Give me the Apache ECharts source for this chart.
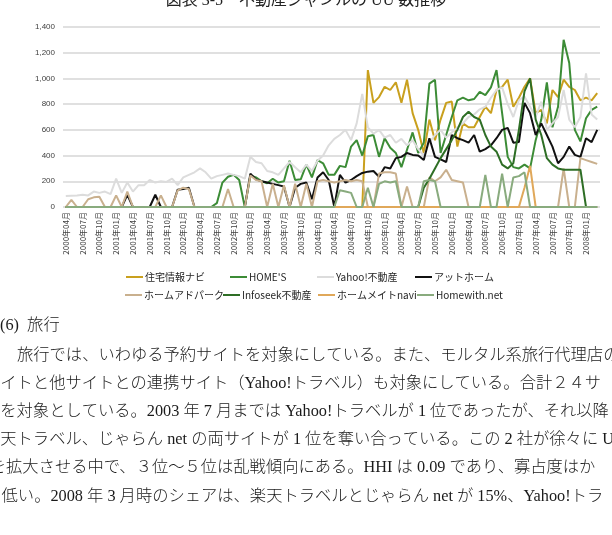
<!DOCTYPE html>
<html>
<head>
<meta charset="utf-8">
<script src="https://cdn.jsdelivr.net/npm/echarts@6/dist/echarts.min.js"></script>
<style>
  html, body { margin: 0; padding: 0; background: #fff; }
  #chart { width: 612px; height: 535px; }
</style>
</head>
<body>
<div id="chart"></div>
<script>
// 月次カテゴリ 2000年04月 〜 2008年03月
const months = []
for (let y = 2000; y <= 2008; y++) {
  for (let m = 1; m <= 12; m++) {
    if (y === 2000 && m < 4) continue
    if (y === 2008 && m > 3) break
    months.push(y + '年' + String(m).padStart(2, '0') + '月')
  }
}

const seriesNames = ['住宅情報ナビ', "HOME'S", 'Yahoo!不動産', 'アットホーム',
  'ホームアドパーク', 'Infoseek不動産', 'ホームメイトnavi', 'Homewith.net']
const seriesColors = ['#C9A01E', '#3C8C36', '#DCDCDC', '#111111',
  '#C9B08E', '#2E6E25', '#E0A85A', '#89AB7E']

// 1行 = 4月〜翌3月
const jutakuNavi = [
  0, 0, 0, 0, 0, 0, 0, 0, 0, 0, 0, 0,
  0, 0, 0, 0, 0, 0, 0, 0, 0, 0, 0, 0,
  0, 0, 0, 0, 0, 0, 0, 0, 0, 0, 0, 0,
  0, 0, 0, 0, 0, 0, 0, 0, 0, 0, 0, 0,
  0, 0, 0, 0, 0, 0, 1065, 810, 855, 935, 910, 970,
  810, 990, 730, 600, 420, 680, 520, 680, 810, 820, 470, 650,
  620, 620, 700, 780, 730, 910, 935, 990, 780, 850, 935, 1000,
  730, 755, 650, 910, 855, 990, 935, 910, 830, 850, 830, 885
]
const homes = [
  0, 0, 0, 0, 0, 0, 0, 0, 0, 0, 0, 0,
  0, 0, 0, 0, 0, 0, 0, 0, 0, 0, 0, 0,
  0, 0, 0, 30, 190, 235, 250, 210, 0, 245, 230, 200,
  185, 220, 190, 200, 360, 210, 215, 330, 230, 365, 340, 250,
  250, 320, 310, 470, 520, 400, 550, 560, 390, 535, 460, 420,
  310, 445, 580, 420, 500, 960, 990, 420, 560, 700, 830, 850,
  830, 840, 895, 870, 930, 1065, 730, 390, 310, 300, 330, 300,
  520, 680, 970, 620, 780, 1300, 1120, 600, 510, 690, 755, 780
]
const yahoo = [
  85, 88, 90, 95, 90, 120, 110, 120, 100, 220, 110, 190,
  120, 170, 170, 210, 190, 200, 195, 220, 170, 230, 250, 270,
  300, 270, 220, 240, 250, 260, 250, 240, 220, 390, 350, 340,
  280, 270, 250, 300, 350, 310, 270, 330, 280, 360, 400, 480,
  530, 560, 600, 520, 650, 880, 620, 570, 600, 540, 560, 500,
  530, 480, 520, 450, 400, 500, 560, 600, 540, 580, 620, 650,
  700, 720, 760, 780, 850, 910, 930, 800, 700, 830, 860, 780,
  700, 820, 600, 650, 700, 910, 680, 620, 700, 1040, 720, 680
]
const athome = [
  0, 0, 0, 0, 0, 0, 0, 0, 0, 0, 0, 95,
  0, 0, 0, 0, 95, 0, 0, 0, 135, 140, 150, 0,
  0, 0, 0, 0, 0, 0, 0, 0, 0, 260, 215, 200,
  190, 180, 170, 160, 0, 150, 180, 190, 60, 230, 270, 210,
  0, 250, 190, 210, 240, 265, 275, 280, 235, 310, 300, 380,
  390, 420, 405, 400, 365, 535, 390, 370, 350, 560, 535, 520,
  500, 560, 430, 450, 480, 535, 600, 615, 500, 505, 810, 730,
  560, 650, 560, 470, 340, 390, 470, 405, 390, 535, 505, 600
]
const homeAdpark = [
  0, 55, 0, 0, 60, 75, 80, 0, 0, 90, 0, 120,
  0, 0, 0, 0, 0, 90, 0, 0, 130, 150, 140, 0,
  0, 0, 0, 0, 0, 140, 0, 0, 0, 245, 210, 200,
  0, 180, 0, 170, 0, 180, 0, 180, 0, 200, 210, 200,
  190, 200, 210, 200, 210, 200, 0, 0, 260, 270, 270, 260,
  0, 160, 0, 0, 0, 230, 200, 230, 290, 210, 200, 190,
  0, 0, 0, 0, 0, 0, 0, 0, 0, 0, 0, 0,
  0, 0, 0, 0, 0, 300, 0, 0, 380, 365, 350, 335
]
const infoseek = [
  0, 0, 0, 0, 0, 0, 0, 0, 0, 0, 0, 0,
  0, 0, 0, 0, 0, 0, 0, 0, 0, 0, 0, 0,
  0, 0, 0, 0, 0, 0, 0, 0, 0, 0, 0, 0,
  0, 0, 0, 0, 0, 0, 0, 0, 0, 0, 0, 0,
  0, 0, 0, 0, 0, 0, 0, 0, 0, 0, 0, 0,
  0, 0, 0, 0, 150, 220, 300, 380, 450, 520, 600, 700,
  740, 700, 680, 560, 470, 430, 330, 300, 340, 600, 900, 1000,
  680, 560, 380, 330, 300, 290, 290, 290, 290, 0, 0, 0
]
const homemateNavi = [
  0, 0, 0, 0, 0, 0, 0, 0, 0, 0, 0, 0,
  0, 0, 0, 0, 0, 0, 0, 0, 0, 0, 0, 0,
  0, 0, 0, 0, 0, 0, 0, 0, 0, 0, 0, 0,
  0, 0, 0, 0, 0, 0, 0, 0, 0, 0, 0, 0,
  0, 0, 0, 0, 0, 0, 0, 0, 0, 0, 0, 0,
  0, 0, 0, 0, 0, 0, 0, 0, 0, 0, 0, 0,
  0, 0, 0, 0, 0, 0, 0, 0, 0, 0, 150, 320,
  0, 0, 0, 0, 0, 0, 0, 0, 0, 0, 0, 0
]
const homewith = [
  0, 0, 0, 0, 0, 0, 0, 0, 0, 0, 0, 0,
  0, 0, 0, 0, 0, 0, 0, 0, 0, 0, 0, 0,
  0, 0, 0, 0, 0, 0, 0, 0, 0, 0, 0, 0,
  0, 0, 0, 0, 0, 0, 0, 0, 0, 0, 0, 0,
  0, 130, 120, 110, 0, 0, 150, 0, 180, 200, 190, 200,
  0, 0, 0, 0, 200, 210, 200, 0, 0, 0, 0, 0,
  0, 0, 0, 250, 0, 0, 260, 0, 230, 240, 270, 0,
  0, 0, 0, 0, 0, 0, 0, 0, 0, 0, 0, 0
]
const seriesData = [jutakuNavi, homes, yahoo, athome, homeAdpark, infoseek, homemateNavi, homewith]

const yTicks = [0, 200, 400, 600, 800, 1000, 1200, 1400]

const titleText = '図表 3-5　不動産ジャンルの UU 数推移'
const bodyLines = [
  '(6)  旅行',
  '旅行では、いわゆる予約サイトを対象にしている。また、モルタル系旅行代理店の',
  'サイトと他サイトとの連携サイト（Yahoo!トラベル）も対象にしている。合計２４サ',
  'トを対象としている。2003 年 7 月までは Yahoo!トラベルが 1 位であったが、それ以降',
  '楽天トラベル、じゃらん net の両サイトが 1 位を奪い合っている。この 2 社が徐々に U',
  'Uを拡大させる中で、３位～５位は乱戦傾向にある。HHI は 0.09 であり、寡占度はか',
  'なり低い。2008 年 3 月時のシェアは、楽天トラベルとじゃらん net が 15%、Yahoo!トラ'
]
const bodyX = [0, 17, -16, -16, -16, -22, -31]
const bodyY = [326, 356, 384, 412, 440, 468, 497]

// 凡例の配置（2行×4列）
const legendPos = [
  [126, 279], [230, 279], [317, 279], [415, 279],
  [125, 297], [223, 297], [318, 297], [417, 297]
]

const chart = echarts.init(document.getElementById('chart'))

const legends = seriesNames.map((name, i) => ({
  data: [name],
  left: legendPos[i][0],
  top: legendPos[i][1] - 7,
  padding: 0,
  icon: 'rect',
  itemWidth: 17,
  itemHeight: 2,
  textStyle: { fontSize: 10, color: '#262626', fontFamily: 'Noto Sans CJK JP', padding: [0, 0, 0, -3] }
}))

const graphics = [{
  type: 'text',
  left: 'center',
  top: -7,
  style: { text: titleText, fontSize: 16, fill: '#222', fontFamily: "'Liberation Serif', 'Noto Sans CJK JP'" }
}]
bodyLines.forEach((line, i) => {
  graphics.push({
    type: 'text',
    x: bodyX[i],
    y: bodyY[i],
    style: {
      text: line,
      fontSize: 16.3,
      fill: '#1a1a1a',
      fontFamily: "'Liberation Serif', 'Noto Sans CJK JP'",
      fontWeight: 300,
      textVerticalAlign: 'middle'
    }
  })
})

chart.setOption({
  animation: false,
  backgroundColor: '#fff',
  grid: { left: 63, right: 12, top: 27, bottom: 328 },
  legend: legends,
  graphic: graphics,
  xAxis: {
    type: 'category',
    data: months,
    boundaryGap: true,
    axisLine: { show: false },
    axisTick: { show: false },
    axisLabel: { interval: 2, rotate: 90, fontSize: 8, color: '#404040', margin: 5, fontFamily: 'Noto Sans CJK JP' }
  },
  yAxis: {
    type: 'value',
    min: yTicks[0],
    max: yTicks[yTicks.length - 1],
    interval: 200,
    axisLine: { show: false },
    axisTick: { show: false },
    axisLabel: {
      fontSize: 8,
      color: '#404040',
      margin: 8,
      formatter: v => v.toLocaleString('en-US')
    },
    splitLine: { lineStyle: { color: '#d6d6d6', width: 1.5 } }
  },
  series: seriesNames.map((name, i) => ({
    name: name,
    type: 'line',
    data: seriesData[i],
    showSymbol: false,
    color: seriesColors[i],
    lineStyle: { width: 2, color: seriesColors[i] }
  }))
})
</script>
</body>
</html>
